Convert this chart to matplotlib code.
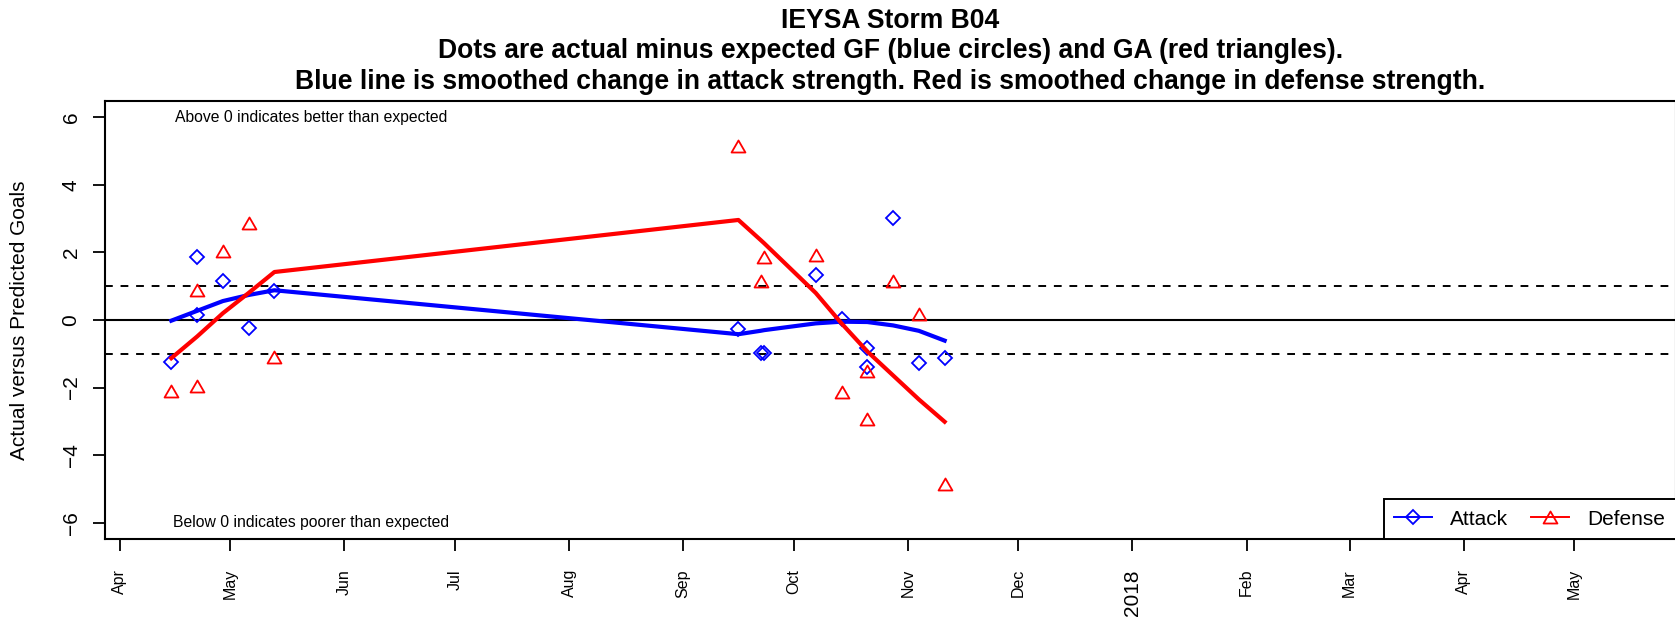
#importing necessary libraries
import pandas as pd
import matplotlib
matplotlib.use("Agg")
import matplotlib.pyplot as plt
from matplotlib.lines import Line2D
from matplotlib.path import Path

plt.rcParams['font.family'] = ['Liberation Sans', 'DejaVu Sans']

# game dates, some weekends have two games
game_dates = ["2017-04-15", "2017-04-22", "2017-04-22", "2017-04-29", "2017-05-06",
              "2017-05-13", "2017-09-16", "2017-09-22", "2017-09-23", "2017-10-07",
              "2017-10-14", "2017-10-21", "2017-10-21", "2017-10-28", "2017-11-04",
              "2017-11-11"]
# actual minus expected goals for (attack) and goals against (defense)
attack_pts = [-1.23, 1.86, 0.15, 1.15, -0.23, 0.86, -0.27, -0.98, -0.98, 1.34,
              0.03, -0.83, -1.40, 3.01, -1.27, -1.11]
defense_pts = [-2.09, 0.90, -1.94, 2.04, 2.87, -1.08, 5.15, 1.15, 1.86, 1.93,
               -2.14, -2.94, -1.52, 1.15, 0.17, -4.85]

# smoothed change in strength, one value per game day
line_dates = ["2017-04-15", "2017-04-22", "2017-04-29", "2017-05-06", "2017-05-13",
              "2017-09-16", "2017-09-22", "2017-09-23", "2017-10-07", "2017-10-14",
              "2017-10-21", "2017-10-28", "2017-11-04", "2017-11-11"]
attack_smooth = [-0.02, 0.27, 0.56, 0.74, 0.88, -0.42, -0.32, -0.30, -0.10, -0.05,
                 -0.06, -0.16, -0.32, -0.61]
defense_smooth = [-1.13, -0.49, 0.20, 0.80, 1.42, 2.96, 2.37, 2.27, 0.80, -0.10,
                  -0.93, -1.64, -2.35, -3.01]

month_ticks = pd.date_range("2017-04-01", "2018-05-01", freq="MS")
month_labels = ["Apr", "May", "Jun", "Jul", "Aug", "Sep", "Oct", "Nov", "Dec",
                "2018", "Feb", "Mar", "Apr", "May"]
y_ticks = [-6, -4, -2, 0, 2, 4, 6]

title_lines = ["IEYSA Storm B04",
               "Dots are actual minus expected GF (blue circles) and GA (red triangles).",
               "Blue line is smoothed change in attack strength. Red is smoothed change in defense strength."]

# equilateral triangle like R's pch=2
tri = Path([(-1, -0.866), (1, -0.866), (0, 0.866), (-1, -0.866)], closed=True)

fig = plt.figure(figsize=(16.75, 6.18), dpi=100)
# plot box runs off the right edge of the picture (like the original)
ax = fig.add_axes([105 / 1675, 79 / 618, 1571 / 1675, 438 / 618])

gd = pd.to_datetime(game_dates)
ld = pd.to_datetime(line_dates)

# reference lines
ax.axhline(0, color="black", lw=1.5)
ax.axhline(1, color="black", lw=1.4, linestyle=(0, (4, 4)))
ax.axhline(-1, color="black", lw=1.4, linestyle=(0, (4, 4)))

ax.plot(gd, attack_pts, linestyle="none", marker="D", ms=6.9, mfc="none",
        mec="blue", mew=1.3)
ax.plot(gd, defense_pts, linestyle="none", marker=tri, ms=10, mfc="none",
        mec="red", mew=1.3)
ax.plot(ld, attack_smooth, color="blue", lw=3)
ax.plot(ld, defense_smooth, color="red", lw=3)

ax.text(pd.Timestamp("2017-05-23"), 6, "Above 0 indicates better than expected",
        ha="center", va="center", fontsize=11.3)
ax.text(pd.Timestamp("2017-05-23"), -6, "Below 0 indicates poorer than expected",
        ha="center", va="center", fontsize=11.3)

ax.set_xlim(pd.Timestamp("2017-04-01") - pd.Timedelta(days=4.0),
            pd.Timestamp("2017-04-01") + pd.Timedelta(days=422.6))
ax.set_ylim(-6.48, 6.48)

ax.set_xticks(month_ticks)
ax.set_xticklabels(month_labels)
ax.set_yticks(y_ticks)
ax.set_yticklabels([str(v).replace("-", "\u2212") for v in y_ticks])
ax.tick_params(axis="x", labelrotation=90, labelsize=11.5, length=8.6, width=1.3, pad=13)
ax.tick_params(axis="y", labelrotation=90, labelsize=15, length=8.6, width=1.3, pad=9)
for lbl in ax.get_yticklabels():
    lbl.set_va("center")
for lbl in ax.get_xticklabels():
    if lbl.get_text() == "2018":
        lbl.set_fontsize(15)

for side in ["left", "bottom", "top", "right"]:
    ax.spines[side].set_linewidth(1.5)

ax.set_ylabel("Actual versus Predicted Goals", fontsize=15)
ax.yaxis.set_label_coords(-0.0545, 0.5)
ax.yaxis.label.set_va("center")

# legend at bottom right
handles = [Line2D([], [], color="blue", lw=1.4, marker="D", ms=6.9, mfc="none", mew=1.3),
           Line2D([], [], color="red", lw=1.4, marker=tri, ms=10, mfc="none", mew=1.3)]
leg = ax.legend(handles, ["Attack", "Defense"], loc="lower right", bbox_to_anchor=(1, 0),
                ncol=2, fontsize=15, frameon=True, fancybox=False, framealpha=1,
                edgecolor="black", borderaxespad=0, borderpad=0.5, handlelength=1.8,
                handletextpad=0.9, columnspacing=1.1)
leg.get_frame().set_linewidth(1.4)

# three-line bold title centred on the plot box
cx = (105 + 1676) / 2 / 1675
for txt, base in zip(title_lines, [28, 58, 89]):
    fig.text(cx, 1 - base / 618, txt, ha="center", va="baseline",
             fontsize=19.1, fontweight="bold")

fig.savefig("out.png", dpi=100)
